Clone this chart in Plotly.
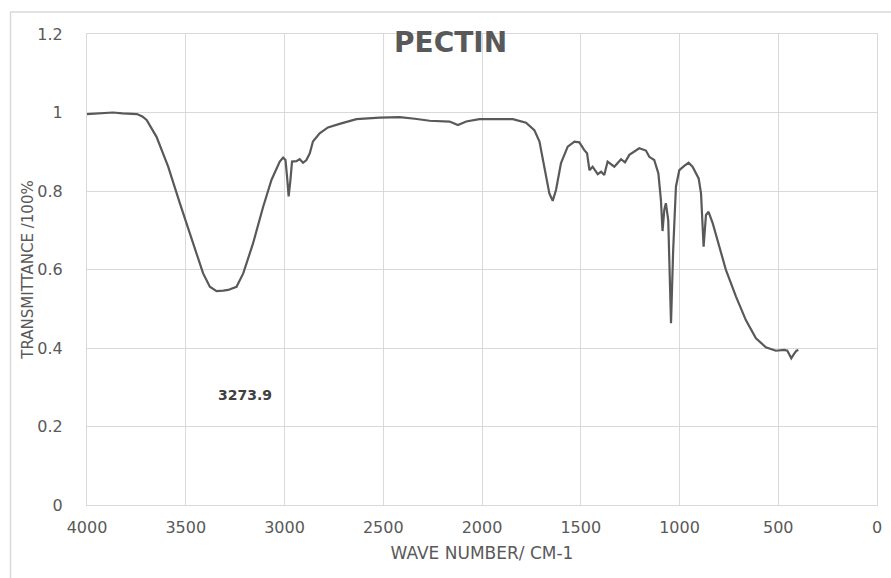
import plotly.graph_objects as go

wavenumber = [4000, 3950, 3900, 3869, 3820, 3780, 3747, 3720, 3698, 3648, 3589, 3530, 3462, 3412,
              3378, 3344, 3310, 3285, 3243, 3209, 3159, 3108, 3066, 3024, 3007, 2995, 2987, 2979,
              2970, 2962, 2940, 2923, 2906, 2889, 2872, 2856, 2822, 2780, 2721, 2636, 2518, 2417,
              2340, 2265, 2164, 2122, 2080, 2013, 1962, 1844, 1777, 1735, 1709, 1684, 1659, 1642,
              1625, 1600, 1566, 1532, 1507, 1482, 1468, 1456, 1440, 1414, 1397, 1381, 1364, 1330,
              1296, 1276, 1254, 1204, 1170, 1153, 1128, 1107, 1094, 1086, 1077, 1069, 1057, 1043,
              1032, 1018, 1001, 976, 954, 934, 903, 891, 878, 866, 853, 832, 799, 765, 714, 664,
              613, 563, 512, 470, 454, 434, 420, 408, 398]
transmittance = [0.996, 0.997, 0.998, 1.000, 0.998, 0.997, 0.996, 0.990, 0.981, 0.938, 0.862, 0.769,
                 0.667, 0.590, 0.556, 0.545, 0.546, 0.548, 0.556, 0.590, 0.667, 0.760, 0.828, 0.875,
                 0.885, 0.879, 0.836, 0.786, 0.828, 0.875, 0.876, 0.881, 0.872, 0.879, 0.896, 0.926,
                 0.947, 0.962, 0.971, 0.983, 0.987, 0.988, 0.984, 0.979, 0.977, 0.968, 0.977, 0.983,
                 0.983, 0.983, 0.974, 0.955, 0.926, 0.862, 0.794, 0.775, 0.803, 0.871, 0.913, 0.926,
                 0.924, 0.904, 0.896, 0.853, 0.862, 0.843, 0.849, 0.841, 0.875, 0.862, 0.881, 0.873,
                 0.892, 0.909, 0.903, 0.887, 0.879, 0.845, 0.777, 0.698, 0.752, 0.769, 0.726, 0.463,
                 0.650, 0.811, 0.853, 0.864, 0.872, 0.862, 0.832, 0.794, 0.658, 0.739, 0.747, 0.718,
                 0.658, 0.599, 0.531, 0.471, 0.425, 0.402, 0.393, 0.395, 0.393, 0.374, 0.385, 0.393,
                 0.395]

x_ticks = [4000, 3500, 3000, 2500, 2000, 1500, 1000, 500, 0]
y_ticks = [0, 0.2, 0.4, 0.6, 0.8, 1, 1.2]
y_tick_labels = ["0", "0.2", "0.4", "0.6", "0.8", "1", "1.2"]

peak_label = "3273.9"
peak_label_pos = (3201, 0.28)

GRID = "#d9d9d9"
TXT = "#595959"
FONT = "DejaVu Sans"

fig = go.Figure()
fig.add_trace(go.Scatter(x=wavenumber, y=transmittance, mode="lines",
                         line=dict(color="#595959", width=2.2), showlegend=False))

fig.update_layout(
    width=891, height=578,
    margin=dict(l=87, r=9, t=34, b=73),
    paper_bgcolor="white", plot_bgcolor="white",
    font=dict(family=FONT, color=TXT),
    xaxis=dict(range=[4000, 0], tickvals=x_ticks, ticktext=[str(v) for v in x_ticks],
               showgrid=True, gridcolor=GRID, gridwidth=1, zeroline=False,
               showline=True, linecolor=GRID, mirror=True, ticks="",
               tickfont=dict(size=16, color=TXT, family=FONT), ticklabelstandoff=8,
               title=dict(text="WAVE NUMBER/ CM-1", font=dict(size=17, color=TXT, family=FONT),
                          standoff=10)),
    yaxis=dict(range=[0, 1.2], tickvals=y_ticks, ticktext=y_tick_labels,
               showgrid=True, gridcolor=GRID, gridwidth=1, zeroline=False,
               showline=True, linecolor=GRID, mirror=True, ticks="",
               tickfont=dict(size=16, color=TXT, family=FONT), ticklabelstandoff=20,
               title=dict(text="TRANSMITTANCE /100%", font=dict(size=15, color=TXT, family=FONT),
                          standoff=0)),
    shapes=[dict(type="rect", xref="paper", yref="paper",
                 x0=-0.0968, x1=1.03, y0=-0.25, y1=1.0467,
                 line=dict(color=GRID, width=1.5), fillcolor="rgba(0,0,0,0)", layer="below")],
    annotations=[
        dict(text="<b>PECTIN</b>", xref="paper", yref="paper", x=0.4605, y=0.983,
             xanchor="center", yanchor="middle", showarrow=False,
             font=dict(size=28, color=TXT, family=FONT)),
        dict(text="<b>" + peak_label + "</b>", xref="x", yref="y",
             x=peak_label_pos[0], y=peak_label_pos[1], xanchor="center", yanchor="middle",
             showarrow=False, font=dict(size=14, color="#404040", family=FONT)),
    ],
)

fig.write_html("out.html", config={"displayModeBar": False},
               post_script="document.body.style.margin='0px';")
